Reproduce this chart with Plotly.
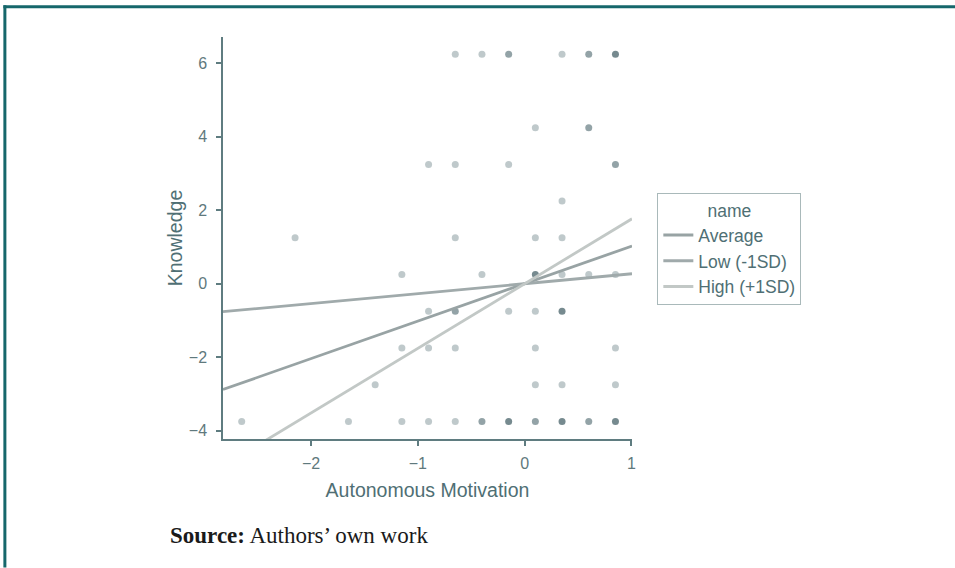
import plotly.graph_objects as go

# ---- data ----
pt_x = [-0.65, -0.40, -0.15, 0.35, 0.60, 0.85,
        0.10, 0.60,
        -0.90, -0.65, -0.15, 0.85,
        0.35,
        -2.15, -0.65, 0.10, 0.35,
        -1.15, -0.40, 0.10, 0.35, 0.60, 0.85,
        -0.90, -0.65, -0.15, 0.10, 0.35,
        -1.15, -0.90, -0.65, 0.10, 0.85,
        -1.40, 0.10, 0.35, 0.85,
        -2.65, -1.65, -1.15, -0.90, -0.65, -0.40, -0.15, 0.10, 0.35, 0.60, 0.85]
pt_y = [6.25]*6 + [4.25]*2 + [3.25]*4 + [2.25] + [1.25]*4 + [0.25]*6 + [-0.75]*5 + [-1.75]*5 + [-2.75]*4 + [-3.75]*11
pt_n = [1, 1, 2, 1, 2, 3,
        1, 2,
        1, 1, 1, 2,
        1,
        1, 1, 1, 1,
        1, 1, 3, 1, 1, 1,
        1, 2, 1, 1, 3,
        1, 1, 1, 1, 1,
        1, 1, 1, 1,
        1, 1, 1, 1, 1, 2, 3, 2, 3, 2, 3]

line_names = ["Average", "Low (-1SD)", "High (+1SD)"]
line_slopes = [1.02, 0.27, 1.76]
line_colors = ["#98a3a4", "#a0aaab", "#c2c8c6"]
x_ends = [-2.825, 1.005]

x_ticks = [-2, -1, 0, 1]
y_ticks = [-4, -2, 0, 2, 4, 6]

# ---- layout geometry ----
W, H = 955, 568
L, R, T, B = 223.3, 631.7, 36.7, 439.3
pw, ph = R - L, B - T


def px(x):
    return (x - L) / pw


def py(y):
    return (B - y) / ph


fig = go.Figure()

alpha = 0.31
fig.add_trace(go.Scatter(
    x=pt_x, y=pt_y, mode="markers", showlegend=False, hoverinfo="skip",
    marker=dict(size=7, color="rgb(50,80,88)",
                opacity=[1 - (1 - alpha) ** n for n in pt_n], line=dict(width=0)),
))

for name, s, c in zip(line_names, line_slopes, line_colors):
    fig.add_trace(go.Scatter(
        x=x_ends, y=[s * v for v in x_ends], mode="lines", name=name,
        line=dict(color=c, width=2.8),
    ))

axis_col = "#5f7c80"
tick_font = dict(family="Liberation Sans, Arial", size=16, color="#5f797d")
title_font = dict(family="Liberation Sans, Arial", size=19.5, color="#4f6f74")
leg_font = dict(family="Liberation Sans, Arial", size=17.5, color="#4f6f74")

fig.update_layout(
    width=W, height=H,
    margin=dict(l=L, r=W - R, t=T, b=H - B, autoexpand=False),
    paper_bgcolor="white", plot_bgcolor="white",
    xaxis=dict(range=x_ends, tickvals=x_ticks, ticktext=["\u22122", "\u22121", "0", "1"],
               showgrid=False, zeroline=False, showline=True, linecolor=axis_col, linewidth=1.5,
               ticks="outside", ticklen=5, tickcolor=axis_col, tickwidth=1.5, tickfont=tick_font,
               ticklabelstandoff=4,
               title=dict(text="Autonomous Motivation", font=title_font, standoff=12)),
    yaxis=dict(range=[-4.23, 6.72], tickvals=y_ticks, ticktext=["\u22124", "\u22122", "0", "2", "4", "6"],
               showgrid=False, zeroline=False, showline=True, linecolor=axis_col, linewidth=1.5,
               ticks="outside", ticklen=5, tickcolor=axis_col, tickwidth=1.5, tickfont=tick_font,
               ticklabelstandoff=6,
               title=dict(text="Knowledge", font=title_font, standoff=1)),
    legend=dict(x=px(657), y=py(193.3), xanchor="left", yanchor="top",
                bordercolor="#a9b9ba", borderwidth=1, bgcolor="white",
                font=leg_font,
                title=dict(text="name", side="top center", font=leg_font),
                tracegroupgap=0, itemwidth=30),
    showlegend=True,
)

# frame lines (top and left)
border = "#16676b"
fig.add_shape(type="line", xref="paper", yref="paper", x0=px(4), x1=px(955), y0=py(6.5), y1=py(6.5),
              line=dict(color=border, width=3))
fig.add_shape(type="line", xref="paper", yref="paper", x0=px(5.5), x1=px(5.5), y0=py(5), y1=py(568),
              line=dict(color=border, width=3))

fig.add_annotation(xref="paper", yref="paper", x=px(168), y=py(536), xanchor="left", yanchor="middle",
                   text="<b>Source:</b> Authors\u2019 own work", showarrow=False,
                   font=dict(family="Liberation Serif, Times New Roman", size=23, color="#1a1a1a"))

fig.write_html("out.html", config={"displayModeBar": False},
               post_script="document.body.style.margin='0px';")
